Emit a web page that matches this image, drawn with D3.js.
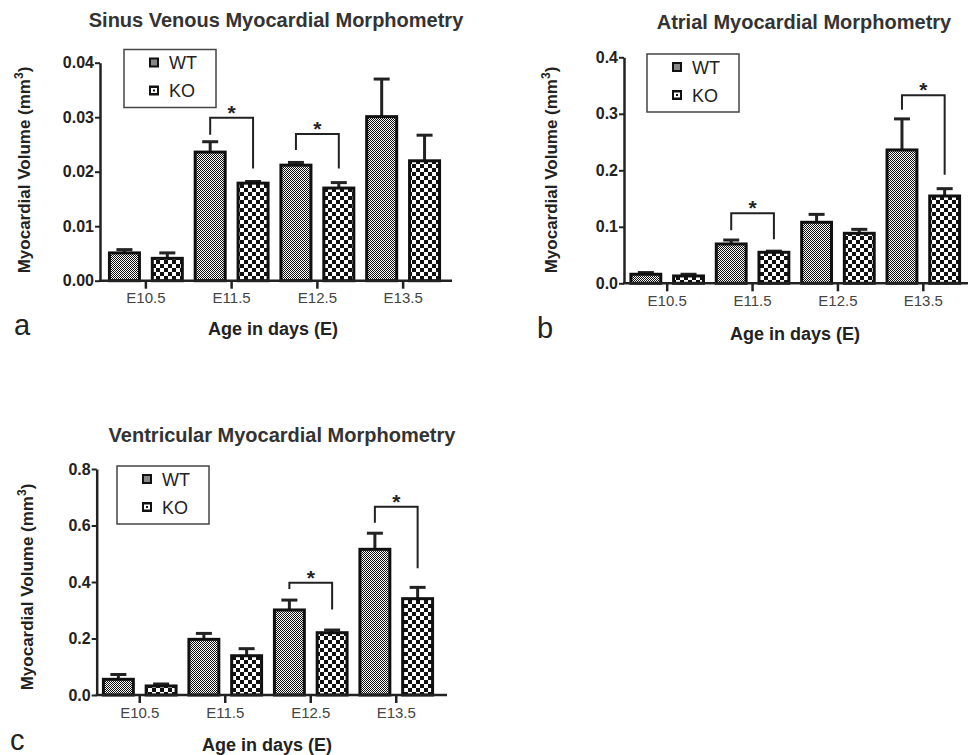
<!DOCTYPE html>
<html><head><meta charset="utf-8">
<script src="https://cdn.jsdelivr.net/npm/d3@7"></script>
<style>
body{margin:0;background:#fff;}
svg{display:block;font-family:"Liberation Sans",Arial,Helvetica,sans-serif;}
</style>
</head><body>
<svg id="chart" width="968" height="755"></svg>
<script>
// ---------------- DATA ----------------
const categories = ["E10.5", "E11.5", "E12.5", "E13.5"];
const seriesNames = ["WT", "KO"];
const xAxisTitle = "Age in days (E)";

// Panel a: Sinus Venous
const sinusTitle = "Sinus Venous Myocardial Morphometry";
const sinusWT    = [0.0051, 0.0236, 0.0212, 0.0301];
const sinusWTErr = [0.0006, 0.0019, 0.0005, 0.0069];
const sinusKO    = [0.0041, 0.0179, 0.0170, 0.0220];
const sinusKOErr = [0.0010, 0.0003, 0.0010, 0.0047];
const sinusTicks = [0, 0.01, 0.02, 0.03, 0.04];
const sinusTickLabels = ["0.00", "0.01", "0.02", "0.03", "0.04"];
const sinusSig = [
  {category: "E11.5", top: 0.0299, wtEnd: 0.0268, koEnd: 0.0206},
  {category: "E12.5", top: 0.0269, wtEnd: 0.0240, koEnd: 0.0206}
];

// Panel b: Atrial
const atrialTitle = "Atrial Myocardial Morphometry";
const atrialWT    = [0.016, 0.0696, 0.108, 0.236];
const atrialWTErr = [0.003, 0.007, 0.014, 0.055];
const atrialKO    = [0.013, 0.0549, 0.0885, 0.1545];
const atrialKOErr = [0.003, 0.002, 0.007, 0.013];
const atrialTicks = [0, 0.1, 0.2, 0.3, 0.4];
const atrialTickLabels = ["0.0", "0.1", "0.2", "0.3", "0.4"];
const atrialSig = [
  {category: "E11.5", top: 0.124, wtEnd: 0.094, koEnd: 0.078},
  {category: "E13.5", top: 0.333, wtEnd: 0.307, koEnd: 0.192}
];

// Panel c: Ventricular
const ventTitle = "Ventricular Myocardial Morphometry";
const ventWT    = [0.0555, 0.197, 0.301, 0.5157];
const ventWTErr = [0.017, 0.021, 0.035, 0.057];
const ventKO    = [0.032, 0.139, 0.2205, 0.341];
const ventKOErr = [0.007, 0.025, 0.0095, 0.040];
const ventTicks = [0, 0.2, 0.4, 0.6, 0.8];
const ventTickLabels = ["0.0", "0.2", "0.4", "0.6", "0.8"];
const ventSig = [
  {category: "E12.5", top: 0.3975, wtEnd: 0.375, koEnd: 0.303},
  {category: "E13.5", top: 0.6665, wtEnd: 0.610, koEnd: 0.4485}
];

const yAxisTitle = "Myocardial Volume (mm";

// ---------------- LAYOUT ----------------
const INK = "#222";
const svg = d3.select("#chart");

const defs = svg.append("defs");
// WT: very fine checker
const pWT = defs.append("pattern").attr("id", "patWT").attr("patternUnits", "userSpaceOnUse")
  .attr("width", 2).attr("height", 2);
pWT.append("rect").attr("width", 2).attr("height", 2).attr("fill", "#fff");
pWT.append("rect").attr("width", 1).attr("height", 1).attr("fill", "#111");
pWT.append("rect").attr("x", 1).attr("y", 1).attr("width", 1).attr("height", 1).attr("fill", "#111");
// KO: coarse checker
const pKO = defs.append("pattern").attr("id", "patKO").attr("patternUnits", "userSpaceOnUse")
  .attr("width", 8).attr("height", 8);
pKO.append("rect").attr("width", 8).attr("height", 8).attr("fill", "#fff");
pKO.append("rect").attr("width", 4).attr("height", 4).attr("fill", "#111");
pKO.append("rect").attr("x", 4).attr("y", 4).attr("width", 4).attr("height", 4).attr("fill", "#111");

const panels = [
  {
    title: sinusTitle, wt: sinusWT, wtErr: sinusWTErr, ko: sinusKO, koErr: sinusKOErr,
    ticks: sinusTicks, tickLabels: sinusTickLabels, sig: sinusSig, letter: "a",
    yMax: 0.04, y0: 280.7, y1: 62.7, axisX: 100, axisEnd: 452, xRange: [103, 446],
    titleX: 276, titleY: 27, xTitleX: 273, xTitleY: 335, tickLabelY: 304,
    letterX: 14, letterY: 335, yTitleX: 30, yTitleY: 170, legendX: 124, legendY: 49.5
  },
  {
    title: atrialTitle, wt: atrialWT, wtErr: atrialWTErr, ko: atrialKO, koErr: atrialKOErr,
    ticks: atrialTicks, tickLabels: atrialTickLabels, sig: atrialSig, letter: "b",
    yMax: 0.4, y0: 283.3, y1: 57.3, axisX: 624, axisEnd: 968, xRange: [624.5, 966],
    titleX: 804, titleY: 29, xTitleX: 795, xTitleY: 340, tickLabelY: 307,
    letterX: 537, letterY: 338, yTitleX: 557, yTitleY: 170, legendX: 647, legendY: 54
  },
  {
    title: ventTitle, wt: ventWT, wtErr: ventWTErr, ko: ventKO, koErr: ventKOErr,
    ticks: ventTicks, tickLabels: ventTickLabels, sig: ventSig, letter: "c",
    yMax: 0.8, y0: 695, y1: 469, axisX: 96.7, axisEnd: 447, xRange: [97, 439],
    titleX: 282, titleY: 442, xTitleX: 267, xTitleY: 751, tickLabelY: 719,
    letterX: 10, letterY: 750, yTitleX: 33, yTitleY: 587, legendX: 117, legendY: 466
  }
];

function drawPanel(p) {
  const g = svg.append("g");
  const x = d3.scaleBand().domain(categories).range(p.xRange);
  const xs = d3.scaleBand().domain(seriesNames).range([0, x.bandwidth()])
    .paddingInner(0.3).paddingOuter(0.15);
  const y = d3.scaleLinear().domain([0, p.yMax]).range([p.y0, p.y1]);

  const rows = [];
  categories.forEach((c, i) => {
    rows.push({cat: c, s: "WT", v: p.wt[i], e: p.wtErr[i]});
    rows.push({cat: c, s: "KO", v: p.ko[i], e: p.koErr[i]});
  });
  const cx = d => x(d.cat) + xs(d.s) + xs.bandwidth() / 2;

  // error bars (upper only)
  const eb = g.append("g").attr("stroke", INK).attr("stroke-width", 3);
  eb.selectAll("line.v").data(rows).join("line")
    .attr("x1", cx).attr("x2", cx)
    .attr("y1", d => y(d.v)).attr("y2", d => y(d.v + d.e));
  eb.selectAll("line.c").data(rows).join("line")
    .attr("x1", d => cx(d) - 8).attr("x2", d => cx(d) + 8)
    .attr("y1", d => y(d.v + d.e)).attr("y2", d => y(d.v + d.e));

  // bars
  g.append("g").selectAll("rect").data(rows).join("rect")
    .attr("x", d => x(d.cat) + xs(d.s))
    .attr("width", xs.bandwidth())
    .attr("y", d => y(d.v))
    .attr("height", d => y(0) - y(d.v))
    .attr("fill", d => d.s === "WT" ? "url(#patWT)" : "url(#patKO)")
    .attr("stroke", "#111").attr("stroke-width", 3);

  // y axis
  const ya = g.append("g").attr("transform", `translate(${p.axisX},0)`)
    .call(d3.axisLeft(y).tickValues(p.ticks).tickFormat((d, i) => p.tickLabels[i])
      .tickSize(5).tickSizeOuter(0).tickPadding(1));
  ya.select(".domain").attr("stroke", INK).attr("stroke-width", 2.5);
  ya.selectAll(".tick line").attr("stroke", INK).attr("stroke-width", 2);
  ya.selectAll(".tick text").attr("fill", INK).attr("font-size", 16).attr("font-weight", "bold")
    .attr("font-family", '"Liberation Sans",Arial,sans-serif');

  // x axis
  const xa = g.append("g").attr("transform", `translate(0,${p.y0})`)
    .call(d3.axisBottom(x).tickSize(8).tickSizeOuter(0).tickPadding(p.tickLabelY - p.y0 - 20));
  xa.select(".domain").remove();
  xa.selectAll(".tick line").attr("stroke", INK).attr("stroke-width", 2.5);
  xa.selectAll(".tick text").attr("fill", "#444").attr("font-size", 15)
    .attr("font-family", '"Liberation Sans",Arial,sans-serif');
  g.append("line").attr("x1", p.axisX - 1).attr("x2", p.axisEnd)
    .attr("y1", p.y0).attr("y2", p.y0).attr("stroke", INK).attr("stroke-width", 2.5);

  // significance brackets
  const sg = g.append("g");
  p.sig.forEach(s => {
    const xw = x(s.category) + xs("WT") + xs.bandwidth() / 2;
    const xk = x(s.category) + xs("KO") + xs.bandwidth() / 2;
    sg.append("path")
      .attr("d", `M${xw},${y(s.wtEnd)}V${y(s.top)}H${xk}V${y(s.koEnd)}`)
      .attr("fill", "none").attr("stroke", INK).attr("stroke-width", 2);
    sg.append("text").attr("x", (xw + xk) / 2).attr("y", y(s.top) + 2)
      .attr("text-anchor", "middle").attr("font-size", 21).attr("font-weight", "bold")
      .attr("fill", INK).text("*");
  });

  // title
  g.append("text").attr("x", p.titleX).attr("y", p.titleY).attr("text-anchor", "middle")
    .attr("font-size", 20).attr("font-weight", "bold").attr("fill", "#333").text(p.title);
  // x title
  g.append("text").attr("x", p.xTitleX).attr("y", p.xTitleY).attr("text-anchor", "middle")
    .attr("font-size", 18).attr("font-weight", "bold").attr("fill", INK).text(xAxisTitle);
  // y title
  const yt = g.append("text").attr("transform", `translate(${p.yTitleX},${p.yTitleY}) rotate(-90)`)
    .attr("text-anchor", "middle").attr("font-size", 17).attr("font-weight", "bold").attr("fill", INK);
  yt.append("tspan").text(yAxisTitle);
  yt.append("tspan").attr("font-size", 12).attr("dy", -7).text("3");
  yt.append("tspan").attr("dy", 7).text(")");
  // panel letter
  g.append("text").attr("x", p.letterX).attr("y", p.letterY).attr("font-size", 29)
    .attr("fill", INK).text(p.letter);

  // legend
  const lg = g.append("g").attr("transform", `translate(${p.legendX},${p.legendY})`);
  lg.append("rect").attr("width", 92).attr("height", 58).attr("fill", "#fff")
    .attr("stroke", "#444").attr("stroke-width", 1.5);
  seriesNames.forEach((s, i) => {
    const yy = 8 + i * 28;
    lg.append("rect").attr("x", 25).attr("y", yy).attr("width", 10).attr("height", 10)
      .attr("fill", "#111");
    if (s === "WT") {
      lg.append("rect").attr("x", 27).attr("y", yy + 2).attr("width", 6).attr("height", 6)
        .attr("fill", "#888");
    } else {
      lg.append("rect").attr("x", 27).attr("y", yy + 2.5).attr("width", 6).attr("height", 5)
        .attr("fill", "#fff");
      lg.append("rect").attr("x", 29).attr("y", yy + 4).attr("width", 2).attr("height", 2)
        .attr("fill", "#111");
    }
    lg.append("text").attr("x", 45).attr("y", yy + 11.5).attr("font-size", 18)
      .attr("fill", INK).text(s);
  });
}

panels.forEach(drawPanel);
</script>
</body></html>
